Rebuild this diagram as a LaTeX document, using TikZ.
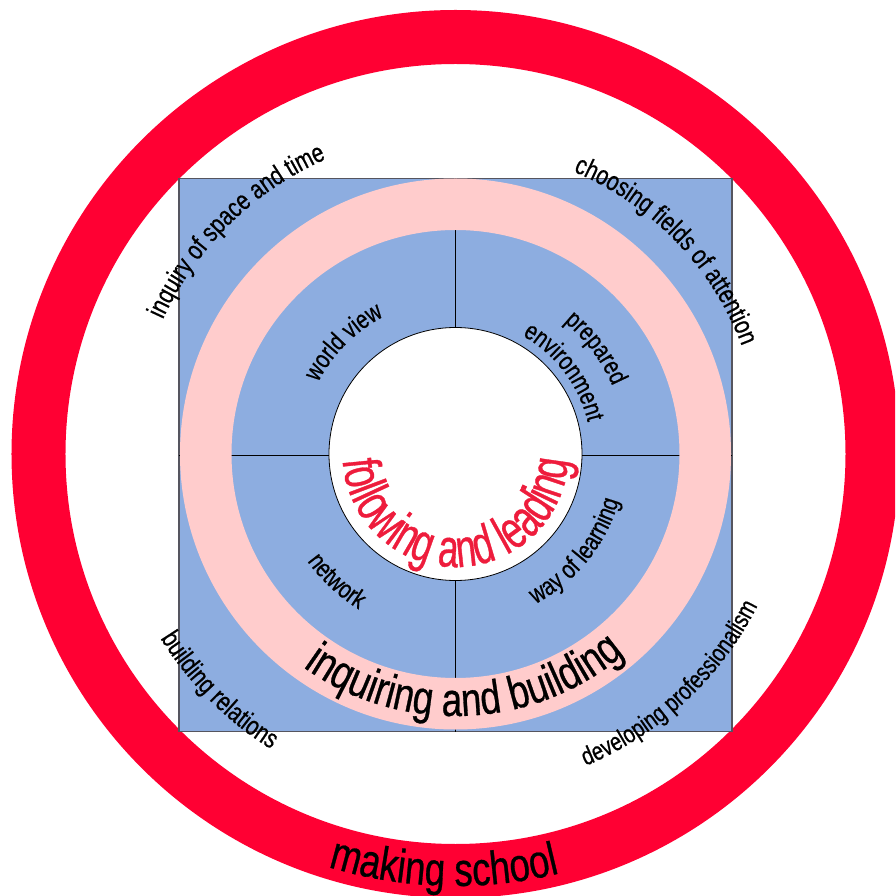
\documentclass[tikz,border=0pt]{standalone}
\usepackage{fontspec}
\setmainfont{Liberation Sans}[FakeStretch=0.78, FakeBold=0.6]
\newfontfamily\narrowfont{Liberation Sans}[FakeStretch=0.68, FakeBold=0.6]
\usetikzlibrary{decorations.text}

\definecolor{ringred}{HTML}{FF0033}
\definecolor{fieldblue}{HTML}{8DADE0}
\definecolor{bandpink}{HTML}{FFCCCC}
\definecolor{leadred}{HTML}{EE1C3C}
\definecolor{framegray}{HTML}{55555F}

\newcommand{\bigtxt}{\fontsize{47}{50}\selectfont}
\newcommand{\hubtxt}{\narrowfont\fontsize{54}{56}\selectfont}
\newcommand{\midtxt}{\fontsize{27}{30}\selectfont}
\newcommand{\smtxt}{\fontsize{26}{28}\selectfont}

\tikzset{
  divider/.style={draw=black, line width=0.9pt},
}

\begin{document}
\begin{tikzpicture}[x=1pt, y=1pt]
  \useasboundingbox (-455.5,-442) rectangle (439.5,454);
  \clip (-455.5,-442) rectangle (439.5,454);

  % outer red ring
  \fill[ringred, even odd rule] (0,0) circle[radius=444] (0,0) circle[radius=390];

  % blue square field with frame
  \node[draw=framegray, fill=fieldblue, line width=1.6pt, minimum size=553pt,
        inner sep=0pt, outer sep=0pt] (field) at (0,-1) {};

  % cross dividing the four quadrants
  \coordinate (c) at (0,0);
  \draw[divider] (field.north) -- (field.south);
  \draw[divider] (field.west) -- (field.east);

  % pink band
  \fill[bandpink, even odd rule] (c) circle[radius=275.5] (c) circle[radius=224];

  % white hub
  \node[circle, draw=black, fill=white, line width=0.8pt, minimum size=253pt,
        inner sep=0pt] (hub) at (c) {};

  % ring, band and hub texts
  \path[decorate, decoration={text along path, text align=center,
        text={|\bigtxt|making school}}]
    (c) ++(-136.6:432) arc[start angle=-136.6, end angle=-46.6, radius=432];
  \path[decorate, decoration={text along path, text align=center,
        text={|\bigtxt|inquiring and building}}]
    (c) ++(-177.7:262) arc[start angle=-177.7, end angle=2.3, radius=262];
  \path[decorate, decoration={text along path, text align=center, text color=leadred,
        text={|\hubtxt|following and leading}}]
    (c) ++(90:113) arc[start angle=90, end angle=450, radius=113];

  % corner labels outside the band
  \path[decorate, decoration={text along path, text align=center,
        text={|\midtxt|inquiry of space and time}}]
    (c) ++(194.5:322) arc[start angle=194.5, end angle=74.5, radius=322];
  \path[decorate, decoration={text along path, text align=center,
        text={|\midtxt|choosing fields of attention}}]
    (c) ++(104:306) arc[start angle=104, end angle=-16, radius=306];
  \path[decorate, decoration={text along path, text align=center,
        text={|\midtxt|building relations}}]
    (c) ++(-195:348) arc[start angle=-195, end angle=-75, radius=348];
  \path[decorate, decoration={text along path, text align=center,
        text={|\fontsize{25.5}{28}\selectfont|developing professionalism}}]
    (c) ++(-107:338) arc[start angle=-107, end angle=13, radius=338];

  % quadrant labels
  \path[decorate, decoration={text along path, text align=center,
        text={|\smtxt|world view}}]
    (c) ++(195:155) arc[start angle=195, end angle=75, radius=155];
  \path[decorate, decoration={text along path, text align=center,
        text={|\smtxt|prepared}}]
    (c) ++(97:171) arc[start angle=97, end angle=-23, radius=171];
  \path[decorate, decoration={text along path, text align=center,
        text={|\smtxt|environment}}]
    (c) ++(97:136) arc[start angle=97, end angle=-23, radius=136];
  \path[decorate, decoration={text along path, text align=center,
        text={|\smtxt|network}}]
    (c) ++(-193:183) arc[start angle=-193, end angle=-73, radius=183];
  \path[decorate, decoration={text along path, text align=center,
        text={|\smtxt|way of learning}}]
    (c) ++(-99:170) arc[start angle=-99, end angle=21, radius=170];
\end{tikzpicture}
\end{document}
